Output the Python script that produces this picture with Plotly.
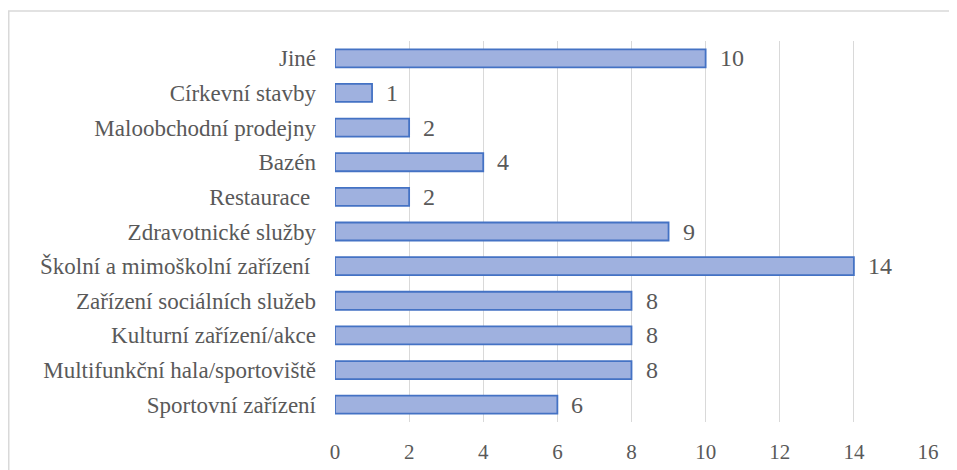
import plotly.graph_objects as go

categories = [
    "Sportovní zařízení",
    "Multifunkční hala/sportoviště",
    "Kulturní zařízení/akce",
    "Zařízení sociálních služeb",
    "Školní a mimoškolní zařízení\u00a0",
    "Zdravotnické služby",
    "Restaurace\u00a0",
    "Bazén",
    "Maloobchodní prodejny",
    "Církevní stavby",
    "Jiné",
]
values = [6, 8, 8, 8, 14, 9, 2, 4, 2, 1, 10]
x_ticks = [0, 2, 4, 6, 8, 10, 12, 14, 16]

FONT = "Times New Roman"
GRAY = "#595959"

fig = go.Figure()
fig.add_trace(go.Bar(
    y=categories,
    x=values,
    orientation="h",
    marker=dict(color="#9fb1df", line=dict(color="#4472c4", width=1.8)),
    hoverinfo="x+y",
))

for c, v in zip(categories, values):
    fig.add_annotation(
        x=v, y=c, text=str(v), showarrow=False,
        xanchor="left", yanchor="middle", xshift=12,
        font=dict(family=FONT, size=24, color=GRAY),
    )

# page body has an 8px margin, so the figure is sized to fit the window
W, H = 949, 462
L, T = 327, 33
PW, PH = 593, 381
R = W - L - PW
B = H - T - PH

bx = (0.75 - L) / PW
by = (H - B - 3) / PH
fig.add_shape(
    type="path", xref="paper", yref="paper",
    path=f"M {bx} {-(B + 10) / PH} L {bx} {by} L {(W + 10 - L) / PW} {by}",
    line=dict(color="#d9d9d9", width=1.5),
)

fig.update_layout(
    width=W, height=H,
    margin=dict(l=L, r=R, t=T, b=B, autoexpand=False),
    paper_bgcolor="white", plot_bgcolor="white",
    showlegend=False,
    bargap=0.48,
    font=dict(family=FONT, color=GRAY),
    xaxis=dict(
        range=[0, 16], tickvals=x_ticks, showgrid=True,
        gridcolor="#d9d9d9", gridwidth=1.3, zeroline=False,
        showline=False, ticks="", ticklabelstandoff=15,
        tickfont=dict(family=FONT, size=21, color=GRAY),
        fixedrange=True, automargin=False,
    ),
    yaxis=dict(
        categoryorder="array", categoryarray=categories,
        showgrid=False, zeroline=False, showline=False, ticks="",
        ticklabelstandoff=18,
        tickfont=dict(family=FONT, size=23, color=GRAY),
        fixedrange=True, automargin=False,
    ),
)

fig.write_html("out.html")
